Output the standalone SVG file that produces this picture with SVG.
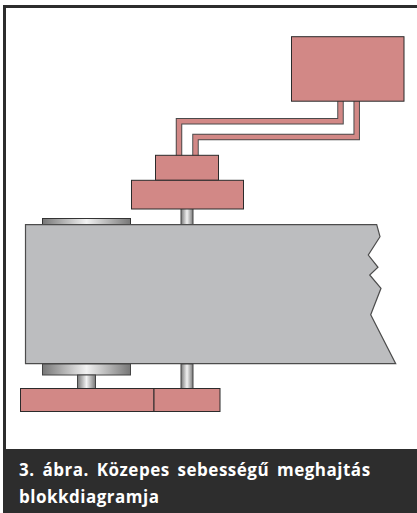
<svg xmlns="http://www.w3.org/2000/svg" width="417" height="513" viewBox="0 0 417 513">
<style>
.p{fill:#d28886;stroke:#2b2b2b;stroke-width:1}
.w{fill:none;stroke:#d28886;stroke-width:4.500}
.wo{fill:none;stroke:#4a4a4a;stroke-width:6.500}
.g{fill:#bcbdbf;stroke:#4c4c4c;stroke-width:1.200}
.m{stroke:#444;stroke-width:1}
text{font-family:"Open Sans","DejaVu Sans",sans-serif;font-weight:700;font-size:17px;fill:#fff;letter-spacing:.5px;word-spacing:3px}
</style>
<defs>
<linearGradient id="metal"><stop offset="0" stop-color="#777"/><stop offset=".5" stop-color="#f2f2f2"/><stop offset="1" stop-color="#777"/></linearGradient>
</defs>
<rect width="417" height="513" fill="#fff"/>
<rect x="3" y="5" width="414" height="3" fill="#2d2d2d"/>
<rect x="3" y="5" width="3" height="445" fill="#2d2d2d"/>
<g id="connectors">
<path class="wo" d="M340.500 100V121.300H179V156M356.700 100V137H195.500V156"/>
<path class="w" d="M340.500 100V121.300H179V156M356.700 100V137H195.500V156"/>
</g>
<g id="shaft-top"><rect class="m" x="181" y="208" width="12" height="17" fill="url(#metal)"/></g>
<g id="plate-top"><rect x="42.500" y="218.500" width="88" height="6.500" fill="url(#metal)" stroke="#333"/></g>
<g id="body"><path class="g" d="M25.500 224.700H376.700L380 236.700L368.300 255L378 267.300L369.700 275L381 288.300L370.700 314.700L395.700 363.700H25.500Z"/></g>
<g id="controller"><rect class="p" x="291.500" y="36.700" width="112.500" height="64.500"/></g>
<g id="motor-upper"><rect class="p" x="155.500" y="155.300" width="63" height="25"/></g>
<g id="motor-lower"><rect class="p" x="131.500" y="180.300" width="112" height="28.700"/></g>
<g id="plate-bottom"><rect class="m" x="42.500" y="364" width="88" height="11" fill="url(#metal)"/></g>
<g id="shaft-left"><rect class="m" x="77.500" y="375" width="18" height="14" fill="url(#metal)"/></g>
<g id="shaft-right"><rect class="m" x="181" y="364" width="12" height="25" fill="url(#metal)"/></g>
<g id="gear-left"><rect class="p" x="20.500" y="388.500" width="133.500" height="23"/></g>
<g id="gear-right"><rect class="p" x="154" y="388.500" width="66" height="23"/></g>
<g id="caption">
<rect x="3" y="449" width="414" height="64" fill="#2d2d2d"/>
<text x="19" y="476">3. ábra. Közepes sebességű meghajtás</text>
<text x="19" y="503">blokkdiagramja</text>
</g>
</svg>
